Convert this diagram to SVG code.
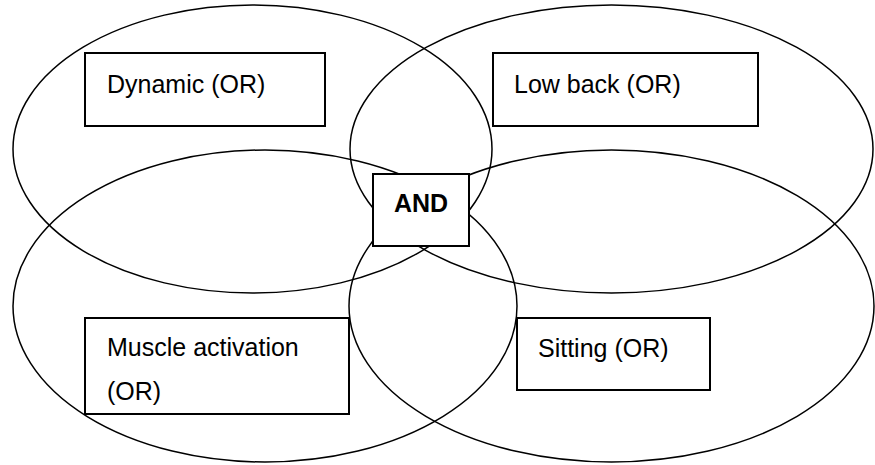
<svg xmlns="http://www.w3.org/2000/svg" width="875" height="465" viewBox="0 0 875 465">
<style>
.set{fill:none;stroke:#000;stroke-width:1.5}
.box{fill:#fff;stroke:#000;stroke-width:2}
.lbl{font-family:"Liberation Sans",Arial,sans-serif;font-size:25px;fill:#000}
.and{font-family:"Liberation Sans",Arial,sans-serif;font-size:25px;font-weight:bold;fill:#000}
</style>
<rect width="875" height="465" fill="#fff"/>
<g id="sets">
<ellipse class="set" cx="252.5" cy="149" rx="239.5" ry="144"/>
<ellipse class="set" cx="611.5" cy="149" rx="261.5" ry="144"/>
<ellipse class="set" cx="265" cy="306" rx="252" ry="156"/>
<ellipse class="set" cx="611.5" cy="306" rx="262.5" ry="156"/>
</g>
<g id="node-dynamic">
<rect class="box" x="85" y="53" width="240" height="73"/>
<text class="lbl" x="107" y="93">Dynamic (OR)</text>
</g>
<g id="node-lowback">
<rect class="box" x="493" y="53" width="265" height="73"/>
<text class="lbl" x="514" y="93">Low back (OR)</text>
</g>
<g id="node-muscle">
<rect class="box" x="85" y="318" width="264" height="96"/>
<text class="lbl" x="107" y="356">Muscle activation</text>
<text class="lbl" x="107" y="400">(OR)</text>
</g>
<g id="node-sitting">
<rect class="box" x="517" y="318" width="193" height="72"/>
<text class="lbl" x="538" y="357">Sitting (OR)</text>
</g>
<g id="node-and">
<rect class="box" x="373" y="174" width="96" height="72"/>
<text class="and" x="394" y="212">AND</text>
</g>
<g id="connectors"/>
</svg>
